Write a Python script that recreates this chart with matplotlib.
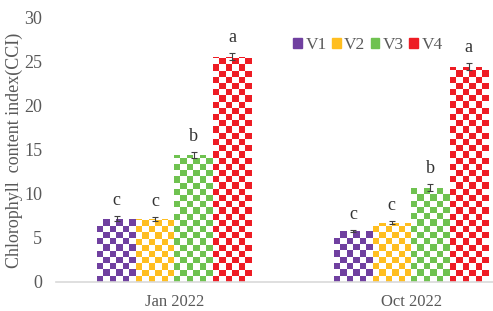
import matplotlib
matplotlib.use("Agg")
import matplotlib.pyplot as plt
import numpy as np

plt.rcParams["font.family"] = ["Liberation Serif", "DejaVu Serif"]

months = ["Jan 2022", "Oct 2022"]
varieties = ["V1", "V2", "V3", "V4"]
colors = ["#7040A0", "#FFBE20", "#6FC250", "#EE1C24"]
values = [[7.2, 7.15, 14.4, 25.6],
          [5.8, 6.75, 10.7, 24.45]]
errors = [[0.3, 0.2, 0.35, 0.4],
          [0.15, 0.15, 0.4, 0.4]]
letters = [["c", "c", "b", "a"],
           ["c", "c", "b", "a"]]
gray = "#595959"

fig = plt.figure(figsize=(4.93, 3.11), dpi=100)
ax = fig.add_axes([56/493, 1-282/311, 1-56/493, (282-18)/311])

width = 0.1625
cell_px = 6.2
x = np.arange(len(months))
for i, v in enumerate(varieties):
    vals = [values[m][i] for m in range(len(months))]
    errs = [errors[m][i] for m in range(len(months))]
    pos = x + (i - 1.5) * width
    bars = ax.bar(pos, vals, width, color="white", edgecolor="none", label=v)
    for b in bars:
        # checkerboard fill clipped to each bar
        x0, w, h = b.get_x(), b.get_width(), b.get_height()
        cx = w / round(w * 237 / cell_px)
        cy = cell_px / 8.8
        nx = int(round(w / cx))
        ny = int(np.ceil(h / cy)) + 1
        board = (np.add.outer(np.arange(ny), np.arange(nx)) % 2).astype(float)
        rgb = np.array(matplotlib.colors.to_rgb(colors[i]))
        img = np.where(board[..., None] == 0, rgb, np.ones(3))
        im = ax.imshow(img[::-1], extent=(x0, x0 + nx * cx, 0, ny * cy),
                       aspect="auto", interpolation="nearest", zorder=2)
        im.set_clip_path(b)
    ax.errorbar(pos, vals, yerr=errs, fmt="none", ecolor="#404040",
                elinewidth=0.8, capsize=2, capthick=0.8, zorder=3)
    for m in range(len(months)):
        ax.annotate(letters[m][i], (pos[m], vals[m] + errs[m]),
                    xytext=(0, 5), textcoords="offset points",
                    ha="center", va="bottom", fontsize=13, color="#333333")

ax.set_xlim(-0.5, 1.346)
ax.set_ylim(0, 30)
ax.set_xticks(x)
ax.set_xticklabels(months)
ax.set_yticks(range(0, 31, 5))
ax.tick_params(length=0, labelsize=12, colors=gray)
ax.tick_params(axis="y", pad=10, labelsize=13)
ax.tick_params(axis="x", pad=9)
for s in ["top", "right", "left"]:
    ax.spines[s].set_visible(False)
ax.spines["bottom"].set_color("#D9D9D9")
ax.spines["bottom"].set_linewidth(1.2)
ax.set_ylabel("Chlorophyll  content index(CCI)", fontsize=13, color=gray)
ax.yaxis.set_label_coords(-0.076, 0.5)

handles = [plt.Rectangle((0, 0), 1, 1, color=c) for c in colors]
fig.legend(handles, varieties, ncol=4, frameon=False, fontsize=12.5,
           handlelength=0.5, handleheight=0.5, handletextpad=0.2,
           columnspacing=0.3, labelcolor=gray,
           loc="center", bbox_to_anchor=(368/493, 1-45/311))

fig.savefig("out.png", dpi=100)
